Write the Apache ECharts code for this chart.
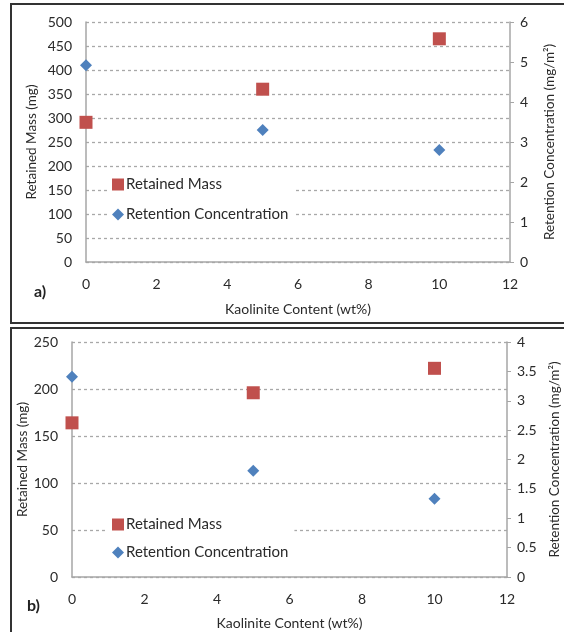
<!DOCTYPE html>
<html>
<head>
<meta charset="utf-8">
<script src="https://cdn.jsdelivr.net/npm/echarts@6/dist/echarts.min.js"></script>
<style>
html,body{margin:0;padding:0;background:#fff;}
#chart{width:564px;height:632px;}
</style>
</head>
<body>
<div id="chart"></div>
<script>
// Panel a)
const kaoliniteA = [0, 5, 10];
const retainedMassA = [291, 360, 465];
const retentionConcA = [4.92, 3.3, 2.8];
// Panel b)
const kaoliniteB = [0, 5, 10];
const retainedMassB = [164, 196, 222];
const retentionConcB = [3.41, 1.81, 1.33];

const xTitle = 'Kaolinite Content (wt%)';
const yLeftTitle = 'Retained Mass (mg)';
const yRightTitle = 'Retention Concentration (mg/m²)';

const RED = '#C0504D', BLUE = '#4F81BD';
const FONT = 'Lato';
const TXT = '#2a2a2a';

function pairs(xs, ys){ return xs.map((x,i)=>[x, ys[i]]); }

const chart = echarts.init(document.getElementById('chart'), null, {renderer:'canvas'});

function xAxis(gi){
  return {
    gridIndex: gi, type:'value', min:0, max:12, interval:2,
    name: xTitle, nameLocation:'middle', nameGap: gi===0?40:39, nameMoveOverlap:false,
    nameTextStyle:{fontFamily:FONT, fontSize:14, color:TXT},
    axisLine:{show:true, onZero:false, lineStyle:{color:'#a6a6a6', width:1.5}},
    axisTick:{show:false},
    axisLabel:{fontFamily:FONT, fontSize:14, color:TXT, margin:15},
    splitLine:{show:false}
  };
}
function yLeft(gi, max, gap){
  return {
    gridIndex: gi, type:'value', position:'left', min:0, max:max, interval:50,
    name: yLeftTitle, nameLocation:'middle', nameGap:gap, nameRotate:90, nameMoveOverlap:false,
    nameTextStyle:{fontFamily:FONT, fontSize:13.5, color:TXT},
    axisLine:{show:true, lineStyle:{color:'#a6a6a6', width:1.5}},
    axisTick:{show:false},
    axisLabel:{fontFamily:FONT, fontSize:14, color:TXT, margin:14},
    splitLine:{show:true, lineStyle:{color:'#a8a8a8', type:[3,3], width:1.3}}
  };
}
function yRight(gi, max, interval, gap){
  return {
    gridIndex: gi, type:'value', position:'right', min:0, max:max, interval:interval,
    name: yRightTitle, nameLocation:'middle', nameGap:gap, nameRotate:90, nameMoveOverlap:false,
    nameTextStyle:{fontFamily:FONT, fontSize:13.5, color:TXT},
    axisLine:{show:true, lineStyle:{color:'#a6a6a6', width:1.5}},
    axisTick:{show:true, inside:false, length:4, lineStyle:{color:'#a6a6a6'}},
    axisLabel:{fontFamily:FONT, fontSize:14, color:TXT, margin:10},
    splitLine:{show:false}
  };
}
function legend(top, gap){
  return {
    orient:'vertical', left:108, top:top, itemGap:gap,
    itemWidth:12, itemHeight:12, backgroundColor:'#fff', padding:[4,6,4,4],
    textStyle:{fontFamily:FONT, fontSize:15, color:TXT, padding:[0,0,0,-3]},
    selectedMode:false
  };
}

const option = {
  animation:false,
  backgroundColor:'#fff',
  grid:[
    {left:86, right:54, top:22, bottom:370, outerBoundsMode:'none', containLabel:false},
    {left:72, right:57, top:342, bottom:55, outerBoundsMode:'none', containLabel:false}
  ],
  xAxis:[xAxis(0), xAxis(1)],
  yAxis:[
    yLeft(0, 500, 47), yRight(0, 6, 1, 33),
    yLeft(1, 250, 42), yRight(1, 4, 0.5, 41)
  ],
  legend:[
    Object.assign(legend(173, 15), {data:[{name:'Retained Mass A', icon:'rect'},{name:'Retention Concentration A', icon:'diamond'}],
      formatter: n => n.slice(0,-2)}),
    Object.assign(legend(513, 13), {data:[{name:'Retained Mass B', icon:'rect'},{name:'Retention Concentration B', icon:'diamond'}],
      formatter: n => n.slice(0,-2)})
  ],
  series:[
    {name:'Retained Mass A', type:'scatter', xAxisIndex:0, yAxisIndex:0, symbol:'rect', symbolSize:13,
     itemStyle:{color:RED, opacity:1}, data:pairs(kaoliniteA, retainedMassA), z:5},
    {name:'Retention Concentration A', type:'scatter', xAxisIndex:0, yAxisIndex:1, symbol:'diamond', symbolSize:12,
     itemStyle:{color:BLUE, opacity:1}, data:pairs(kaoliniteA, retentionConcA), z:5},
    {name:'Retained Mass B', type:'scatter', xAxisIndex:1, yAxisIndex:2, symbol:'rect', symbolSize:13,
     itemStyle:{color:RED, opacity:1}, data:pairs(kaoliniteB, retainedMassB), z:5},
    {name:'Retention Concentration B', type:'scatter', xAxisIndex:1, yAxisIndex:3, symbol:'diamond', symbolSize:12,
     itemStyle:{color:BLUE, opacity:1}, data:pairs(kaoliniteB, retentionConcB), z:5}
  ],
  graphic:[
    {type:'rect', shape:{x:11, y:4, width:600, height:319}, style:{fill:null, stroke:'#333', lineWidth:2}, z:100},
    {type:'rect', shape:{x:11, y:328, width:600, height:400}, style:{fill:null, stroke:'#333', lineWidth:2}, z:100},
    {type:'text', left:34, top:284, style:{text:'a)', font:'bold 16px Lato', fill:'#222'}, z:100},
    {type:'text', left:27, top:598, style:{text:'b)', font:'bold 16px Lato', fill:'#222'}, z:100}
  ]
};
chart.setOption(option);
</script>
</body>
</html>
